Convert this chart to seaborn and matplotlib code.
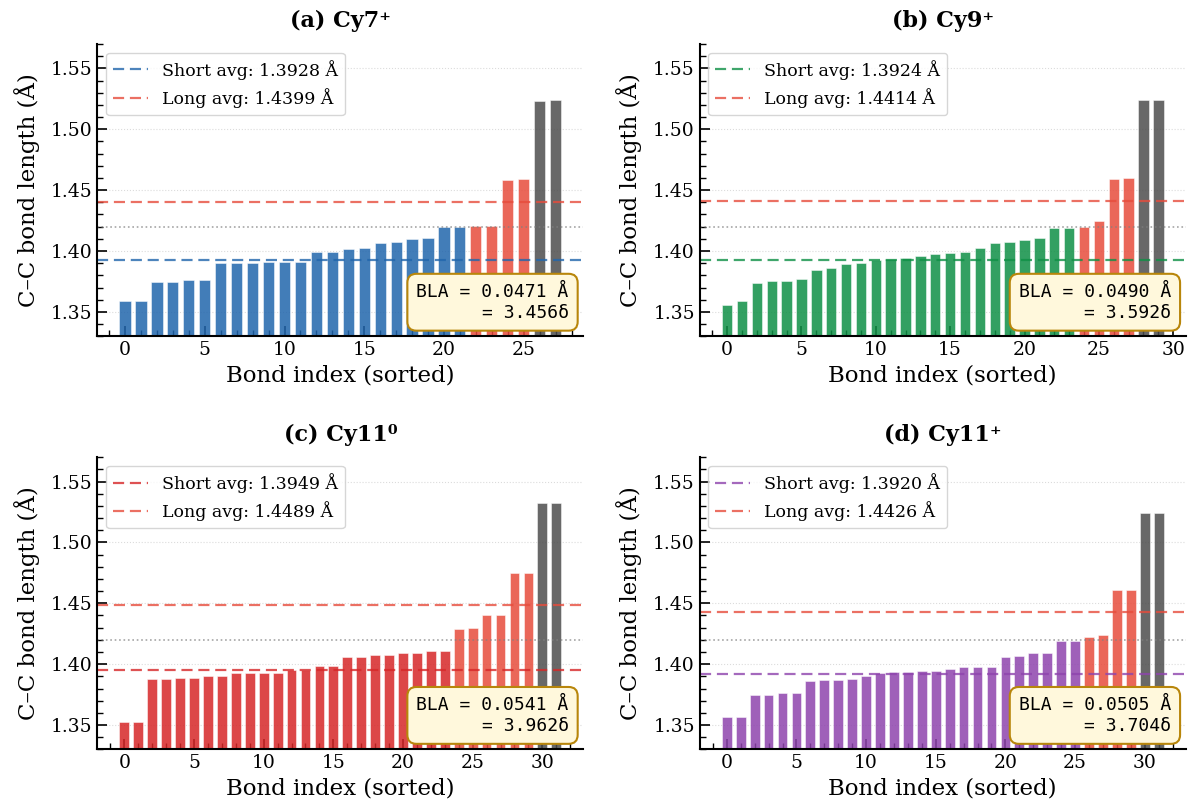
import numpy as np
import pandas as pd
import matplotlib
matplotlib.use("Agg")
import matplotlib.pyplot as plt
from matplotlib.ticker import MultipleLocator
import seaborn as sns

plt.rcParams['font.family'] = ['DejaVu Serif']
plt.rcParams['axes.linewidth'] = 1.5

# sorted C-C bond lengths (Å) per molecule
cy7_plus = [1.3590, 1.3590, 1.3746, 1.3746, 1.3762, 1.3762, 1.3899, 1.3904,
            1.3904, 1.3910, 1.3910, 1.3910, 1.3989, 1.3989, 1.4016, 1.4022,
            1.4066, 1.4071, 1.4098, 1.4104, 1.4194, 1.4194, 1.4202, 1.4202,
            1.4587, 1.4593, 1.5232, 1.5238]
cy9_plus = [1.3560, 1.3593, 1.3740, 1.3751, 1.3757, 1.3768, 1.3847, 1.3863,
            1.3893, 1.3904, 1.3923, 1.3932, 1.3940, 1.3962, 1.3973, 1.3984,
            1.3989, 1.4027, 1.4066, 1.4071, 1.4087, 1.4104, 1.4186, 1.4191,
            1.4201, 1.4249, 1.4590, 1.4601, 1.5238, 1.5238]
cy11_neutral = [1.3526, 1.3526, 1.3877, 1.3877, 1.3888, 1.3888, 1.3899, 1.3899,
                1.3929, 1.3929, 1.3929, 1.3929, 1.3951, 1.3951, 1.3989, 1.3989,
                1.4055, 1.4055, 1.4077, 1.4077, 1.4088, 1.4088, 1.4110, 1.4110,
                1.4293, 1.4299, 1.4403, 1.4403, 1.4745, 1.4745, 1.5326, 1.5326]
cy11_plus = [1.3567, 1.3567, 1.3745, 1.3745, 1.3762, 1.3762, 1.3858, 1.3868,
             1.3874, 1.3882, 1.3904, 1.3929, 1.3932, 1.3937, 1.3942, 1.3948,
             1.3964, 1.3975, 1.3975, 1.3981, 1.4060, 1.4066, 1.4090, 1.4096,
             1.4189, 1.4189, 1.4225, 1.4238, 1.4611, 1.4611, 1.5238, 1.5238]

titles = ['(a) Cy7⁺', '(b) Cy9⁺', '(c) Cy11⁰', '(d) Cy11⁺']
short_avg = [1.3928, 1.3924, 1.3949, 1.3920]
long_avg = [1.4399, 1.4414, 1.4489, 1.4426]
bla = [0.0471, 0.0490, 0.0541, 0.0505]
bla_delta = [3.456, 3.592, 3.962, 3.704]

short_colors = ['#2166ac', '#0f9046', '#d62728', '#8e44ad']
long_color = '#e74c3c'
single_color = '#4d4d4d'
threshold = 1.42
single_cut = 1.5

fig, axes = plt.subplots(2, 2, figsize=(11.88, 8.08), dpi=100)
fig.subplots_adjust(left=0.082, right=0.998, top=0.9455, bottom=0.0725,
                    wspace=0.24, hspace=0.414)

datasets = [cy7_plus, cy9_plus, cy11_neutral, cy11_plus]
for i, ax in enumerate(axes.flat):
    lengths = np.array(datasets[i])
    df = pd.DataFrame({'idx': np.arange(len(lengths)), 'length': lengths})
    df['kind'] = np.where(df['length'] >= single_cut, 'single',
                          np.where(df['length'] >= threshold, 'long', 'short'))
    pal = {'short': short_colors[i], 'long': long_color, 'single': single_color}

    sns.barplot(data=df, x='idx', y='length', hue='kind', palette=pal,
                native_scale=True, dodge=False, width=0.7, saturation=1,
                alpha=0.85, edgecolor='white', linewidth=0.4,
                errorbar=None, legend=False, ax=ax)

    ax.axhline(short_avg[i], color=short_colors[i], ls='--', dashes=(5, 2.6),
               lw=1.6, alpha=0.8, label=f'Short avg: {short_avg[i]:.4f} Å')
    ax.axhline(long_avg[i], color=long_color, ls='--', dashes=(5, 2.6),
               lw=1.6, alpha=0.8, label=f'Long avg: {long_avg[i]:.4f} Å')
    ax.axhline(threshold, color='gray', ls=':', lw=1.2, alpha=0.7)

    ax.set_ylim(1.33, 1.57)
    ax.set_title(titles[i], fontsize=16, fontweight='bold', pad=12)
    ax.set_xlabel('Bond index (sorted)', fontsize=16.5)
    ax.set_ylabel('C–C bond length (Å)', fontsize=16.5, labelpad=8)
    ax.legend(loc='upper left', fontsize=12.5)

    ax.text(0.97, 0.05, f'BLA = {bla[i]:.4f} Å\n= {bla_delta[i]:.3f}δ',
            transform=ax.transAxes, ha='right', va='bottom', multialignment='right',
            family='DejaVu Sans Mono', fontsize=13, zorder=10,
            bbox=dict(boxstyle='round,pad=0.5', facecolor='cornsilk',
                      edgecolor='darkgoldenrod', lw=1.5))

    ax.yaxis.grid(True, ls=':', color='lightgray', alpha=0.8)
    ax.xaxis.grid(False)
    ax.set_axisbelow(True)
    ax.xaxis.set_major_locator(MultipleLocator(5))
    ax.xaxis.set_minor_locator(MultipleLocator(1))
    ax.yaxis.set_minor_locator(MultipleLocator(0.01))
    ax.tick_params(direction='in', which='both', labelsize=13.5)
    ax.tick_params(which='major', length=7, width=1.2)
    ax.tick_params(which='minor', length=4, width=1)
    sns.despine(ax=ax)

fig.savefig('out.png', dpi=100)
